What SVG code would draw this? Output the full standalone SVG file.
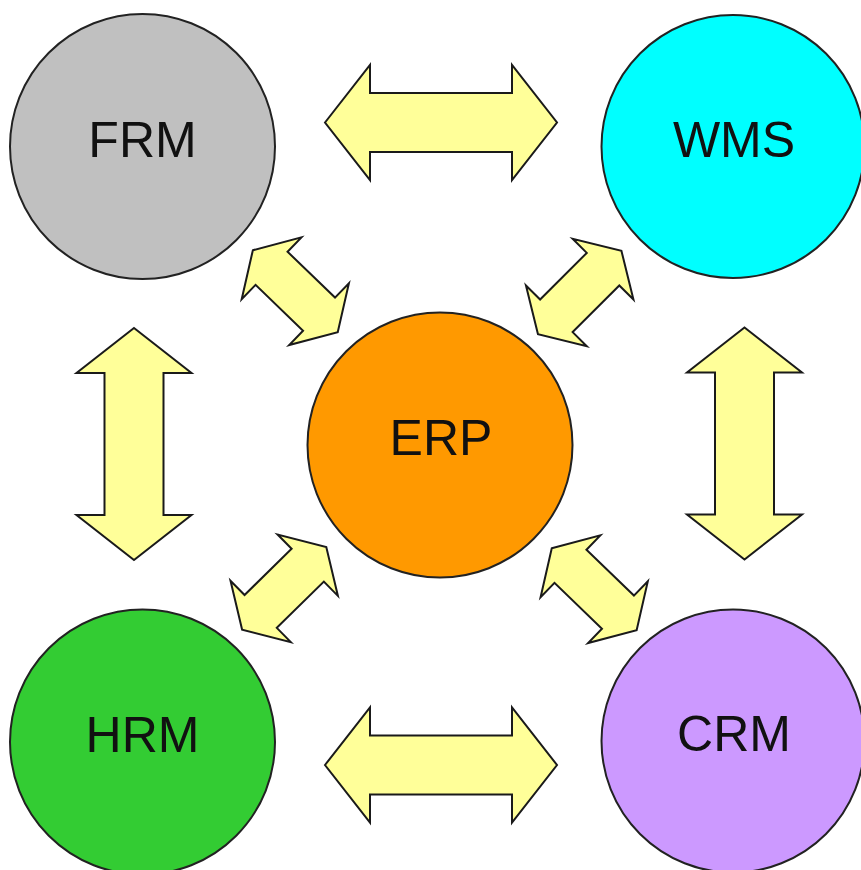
<svg xmlns="http://www.w3.org/2000/svg" xmlns:xlink="http://www.w3.org/1999/xlink" width="861" height="870" viewBox="0 0 861 870">
  <style>
    .node { stroke: #222; stroke-width: 2; }
    .label { font-family: "Liberation Sans", Arial, sans-serif; font-size: 50px; fill: #111; text-anchor: middle; }
    .link { fill: #ffff99; stroke: #1a1a1a; stroke-width: 2; stroke-linejoin: miter; }
  </style>
  <defs>
    <!-- long double arrow, horizontal, centred on origin -->
    <polygon id="bigArrow" points="-116,0 -71,-57.5 -71,-29.5 71,-29.5 71,-57.5 116,0 71,57.5 71,29.5 -71,29.5 -71,57.5"/>
    <!-- short double arrow, horizontal, centred on origin -->
    <polygon id="smallArrow" points="-59,0 -33,-43 -33,-23 33,-23 33,-43 59,0 33,43 33,23 -33,23 -33,43"/>
  </defs>
  <rect width="861" height="870" fill="#ffffff"/>

  <g id="connectors" class="link">
    <use xlink:href="#bigArrow" transform="translate(441,122.5)"/>
    <use xlink:href="#bigArrow" transform="translate(441,765)"/>
    <use xlink:href="#bigArrow" transform="translate(134,444) rotate(90)"/>
    <use xlink:href="#bigArrow" transform="translate(744.5,443.5) rotate(90)"/>
    <use xlink:href="#smallArrow" transform="translate(295.3,291.2) rotate(44)"/>
    <use xlink:href="#smallArrow" transform="translate(579.7,292.5) rotate(-45)"/>
    <use xlink:href="#smallArrow" transform="translate(284.2,588.3) rotate(-44.5)"/>
    <use xlink:href="#smallArrow" transform="translate(594.2,589.2) rotate(44)"/>
  </g>

  <g id="frm">
    <circle class="node" cx="142.5" cy="146.5" r="132.5" fill="#c0c0c0"/>
    <text class="label" x="142.5" y="157">FRM</text>
  </g>
  <g id="wms">
    <circle class="node" cx="733" cy="146.5" r="131.5" fill="#00ffff"/>
    <text class="label" x="734" y="157">WMS</text>
  </g>
  <g id="erp">
    <circle class="node" cx="440" cy="445" r="132.5" fill="#ff9900"/>
    <text class="label" x="441" y="455">ERP</text>
  </g>
  <g id="hrm">
    <circle class="node" cx="142.5" cy="742" r="132.5" fill="#33cc33"/>
    <text class="label" x="142.5" y="752">HRM</text>
  </g>
  <g id="crm">
    <circle class="node" cx="733" cy="741" r="131.5" fill="#cc99ff"/>
    <text class="label" x="734" y="751">CRM</text>
  </g>
</svg>
